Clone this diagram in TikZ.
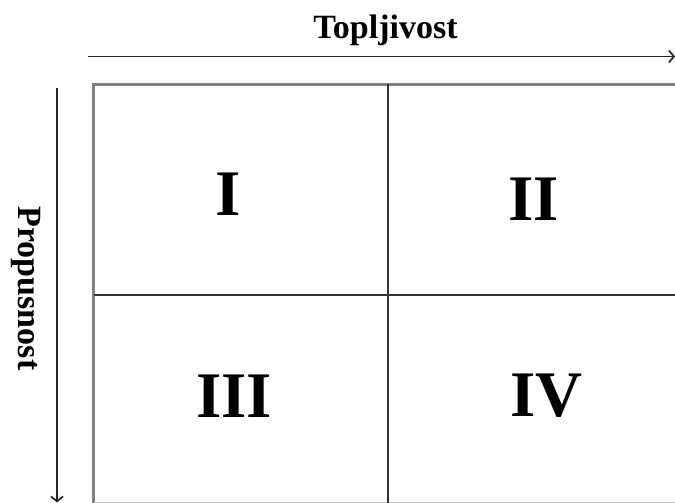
\documentclass[tikz,border=0pt]{standalone}
\usepackage{fontspec}
\setmainfont{Liberation Serif}
\usetikzlibrary{arrows.meta}
\usetikzlibrary{positioning}

\begin{document}
\begin{tikzpicture}[x=1pt,y=-1pt,>={Straight Barb[length=5pt,width=12pt]},
	roman/.style={font=\fontsize{65}{65}\selectfont\bfseries},
	axislabel/.style={font=\fontsize{34}{34}\selectfont\bfseries,anchor=base},
	divider/.style={draw=black!80,line width=2pt}]
	\useasboundingbox (0,0) rectangle (675,503);
	\clip (0,0) rectangle (675,503);
	% axes
	\coordinate (xs) at (88,56.5);
	\coordinate (xe) at (675,56.5);
	\coordinate (ys) at (57,88);
	\coordinate (ye) at (57,502.5);
	\draw[->,line width=1.7pt,black!85] (xs) -- (xe);
	\draw[->,line width=1.7pt,black!85] (ys) -- (ye);
	\node[axislabel] (top) at (385.5,39) {Topljivost};
	\node[axislabel,rotate=-90] (side) at (19,288.5) {Propusnost};
	% box with four fields
	\draw[black!50,line width=3.2pt] (93.5,502.5) -- (93.5,84.5) -- (700,84.5);
	\draw[black!25,line width=1.5pt] (93.5,502.5) -- (700,502.5);
	\draw[divider] (388,84.5) -- (388,503);
	\draw[divider] (93.5,294.5) -- (675,294.5);
	\node[roman] (f1) at (228,194) {I};
	\node[roman] (f2) at (533.5,199.5) {II};
	\node[roman] (f3) at (234,396) {III};
	\node[roman] (f4) at (546.5,396) {IV};
\end{tikzpicture}
\end{document}
